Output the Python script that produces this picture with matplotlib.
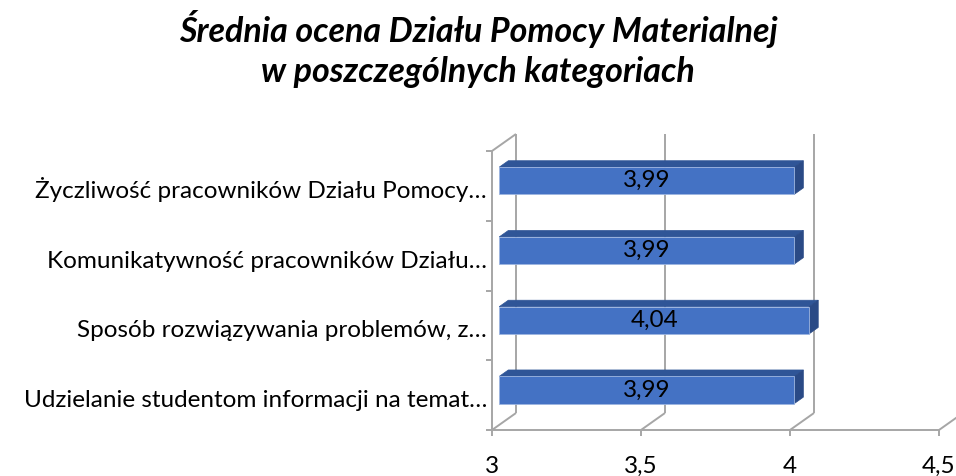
import matplotlib
matplotlib.use("Agg")
import matplotlib.pyplot as plt
from matplotlib.patches import Polygon

plt.rcParams['font.family'] = ['Lato', 'DejaVu Sans']

# ---- data ----
categories = [
    "Udzielanie studentom informacji na temat…",
    "Sposób rozwiązywania problemów, z…",
    "Komunikatywność pracowników Działu…",
    "Życzliwość pracowników Działu Pomocy…",
]
values = [3.99, 4.04, 3.99, 3.99]
value_labels = ["3,99", "4,04", "3,99", "3,99"]
xticks = [3, 3.5, 4, 4.5]
xtick_labels = ["3", "3,5", "4", "4,5"]
title_lines = ["Średnia ocena Działu Pomocy Materialnej", "w poszczególnych kategoriach"]

W, H = 956, 477
fig = plt.figure(figsize=(W / 100, H / 100), dpi=100)
x0_px, x1_px = 492, 939
yb_px, yt_px = 431, 152
ax = fig.add_axes([x0_px / W, (H - yb_px) / H, (x1_px - x0_px) / W, (yb_px - yt_px) / H])
xmin, xmax = 3, 4.5
n = len(categories)
ax.set_xlim(xmin, xmax)
ax.set_ylim(0, n)
ax.axis('off')

ppx = (x1_px - x0_px) / (xmax - xmin)   # px per x unit
ppy = (yb_px - yt_px) / n               # px per y unit
DX = 24 / ppx
DY = 17 / ppy

grid_c = '#A6A6A6'
lw = 1.4
kw = dict(color=grid_c, lw=lw, clip_on=False, solid_capstyle='butt')

# back wall vertical gridlines
for xv in xticks[:-1]:
    ax.plot([xv + DX, xv + DX], [DY, n + DY], zorder=1, **kw)
# floor diagonals
for xv in xticks:
    ax.plot([xv, xv + DX], [0, DY], zorder=1, **kw)
# left wall
ax.plot([xmin, xmin], [0, n], zorder=1, **kw)
ax.plot([xmin, xmin + DX], [n, n + DY], zorder=1, **kw)
# front baseline
ax.plot([xmin, xmax], [0, 0], zorder=1, **kw)
# ticks
tx = 6 / ppx
ty = 6 / ppy
for xv in xticks:
    ax.plot([xv, xv], [0, -ty], zorder=1, **kw)
for i in range(n + 1):
    ax.plot([xmin - tx, xmin], [i, i], zorder=1, **kw)

# bars
f0, f1 = 0.30, 0.68
h = 0.39
front_c = '#4472C4'
top_c = '#2F5597'
side_c = '#2A4A86'
base_off = 5.5 / ppy   # value-label baseline below bar centre
for i, v in enumerate(values):
    c = i + 0.5
    yb = c - h / 2 + f0 * DY
    yt = c + h / 2 + f0 * DY
    xl = xmin + f0 * DX
    xr = v + f0 * DX
    ddx = (f1 - f0) * DX
    ddy = (f1 - f0) * DY
    top = Polygon([(xl, yt), (xr, yt), (xr + ddx, yt + ddy), (xl + ddx, yt + ddy)],
                  closed=True, fc=top_c, ec=top_c, lw=0.5, zorder=3, clip_on=False)
    side = Polygon([(xr, yb), (xr, yt), (xr + ddx, yt + ddy), (xr + ddx, yb + ddy)],
                   closed=True, fc=side_c, ec=side_c, lw=0.5, zorder=3, clip_on=False)
    front = Polygon([(xl, yb), (xr, yb), (xr, yt), (xl, yt)],
                    closed=True, fc=front_c, ec='#9DB5E0', lw=0.6, zorder=4, clip_on=False)
    ax.add_patch(top)
    ax.add_patch(side)
    ax.add_patch(front)
    ax.text((xl + xr) / 2, (yb + yt) / 2 - base_off, value_labels[i], ha='center', va='baseline',
            fontsize=17.5, color='black', zorder=5)

# category labels (baseline ~11 px below category centre)
lab_off = 11 / ppy
for i, lab in enumerate(categories):
    ax.text(xmin - 5 / ppx, i + 0.5 - lab_off, lab, ha='right', va='baseline',
            fontsize=17.5, color='black', clip_on=False)

# x tick labels
for xv, lab in zip(xticks, xtick_labels):
    ax.text(xv, -42 / ppy, lab, ha='center', va='baseline', fontsize=17.5, color='black', clip_on=False)

# title (two lines, baselines at 42 and 82 px)
for line, ypx in zip(title_lines, [42, 82]):
    fig.text(0.5, 1 - ypx / H, line, ha='center', va='baseline', fontsize=24.5,
             fontweight='bold', fontstyle='italic')

fig.savefig("out.png", dpi=100)
